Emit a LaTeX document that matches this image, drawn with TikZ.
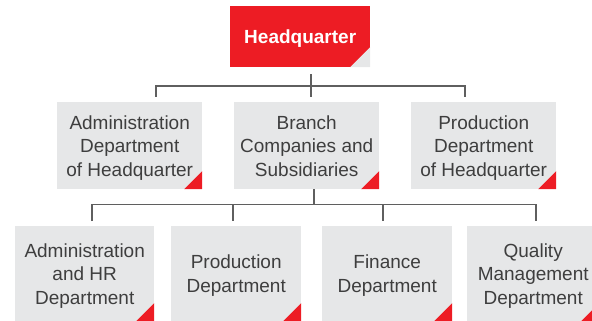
\documentclass[tikz,border=0pt]{standalone}
\usepackage{fontspec}
\setmainfont{Liberation Sans}
\usetikzlibrary{calc}
\definecolor{hqred}{HTML}{ED1C24}
\definecolor{boxgray}{HTML}{E6E7E8}
\definecolor{txtgray}{HTML}{3E3E3E}
\definecolor{linegray}{HTML}{5F5F5F}
\begin{document}
\begin{tikzpicture}[x=1pt,y=-1pt,
  box/.style={fill=boxgray, text=txtgray, inner sep=0pt, anchor=north west, align=center,
    font=\fontsize{19}{23.5}\selectfont, text depth=-1.5pt,
    path picture={\fill[hqred] (path picture bounding box.south east) -- ++(-18pt,0pt) -- ++(18pt,18pt) -- cycle;}},
  hqbox/.style={fill=hqred, text=white, inner sep=0pt, anchor=north west, align=center,
    font=\fontsize{19}{23.5}\selectfont\bfseries, text depth=-1.5pt,
    path picture={\fill[boxgray] (path picture bounding box.south east) -- ++(-20pt,0pt) -- ++(20pt,20pt) -- cycle;}},
  conn/.style={draw=linegray, line width=1.2pt}]
\useasboundingbox (0,0) rectangle (592,321);
\clip (0,0) rectangle (592,321);
% level 1
\node[hqbox, minimum width=140pt, minimum height=61pt] (hq) at (230,6) {Headquarter};
% level 2
\node[box, minimum width=145pt, minimum height=87pt] (l2a) at (57,102) {Administration\\Department\\of Headquarter};
\node[box, minimum width=145pt, minimum height=87pt] (l2b) at (234,102) {Branch\\Companies and\\Subsidiaries};
\node[box, minimum width=145pt, minimum height=87pt] (l2c) at (411,102) {Production\\Department\\of Headquarter};
% level 3
\node[box, minimum width=139pt, minimum height=95pt] (l3a) at (15,226) {Administration\\and HR\\Department};
\node[box, minimum width=130pt, minimum height=95pt] (l3b) at (171,226) {Production\\Department};
\node[box, minimum width=130pt, minimum height=95pt] (l3c) at (322,226) {Finance\\Department};
\node[box, minimum width=132pt, minimum height=95pt] (l3d) at (467,226) {Quality\\Management\\Department};
% connectors level 1 -> 2
\coordinate (t1) at (311,86);
\coordinate (t1a) at (156,86);
\coordinate (t1c) at (465,86);
\draw[conn] ($(hq.south -| t1)+(0,7)$) -- (t1);
\draw[conn] ($(l2a.north -| t1a)+(0,-5)$) -- (t1a) -- (t1c) -- ($(l2c.north -| t1c)+(0,-5)$);
\draw[conn] (t1) -- ($(l2b.north -| t1)+(0,-5)$);
% connectors level 2 -> 3
\coordinate (t2) at (314,204.5);
\coordinate (t2a) at (92,204.5);
\coordinate (t2b) at (233,204.5);
\coordinate (t2c) at (383,204.5);
\coordinate (t2d) at (536,204.5);
\draw[conn] (l2b.south -| t2) -- (t2);
\draw[conn] ($(l3a.north -| t2a)+(0,-5)$) -- (t2a) -- (t2d) -- ($(l3d.north -| t2d)+(0,-5)$);
\draw[conn] (t2b) -- ($(l3b.north -| t2b)+(0,-5)$);
\draw[conn] (t2c) -- ($(l3c.north -| t2c)+(0,-5)$);
\end{tikzpicture}
\end{document}
